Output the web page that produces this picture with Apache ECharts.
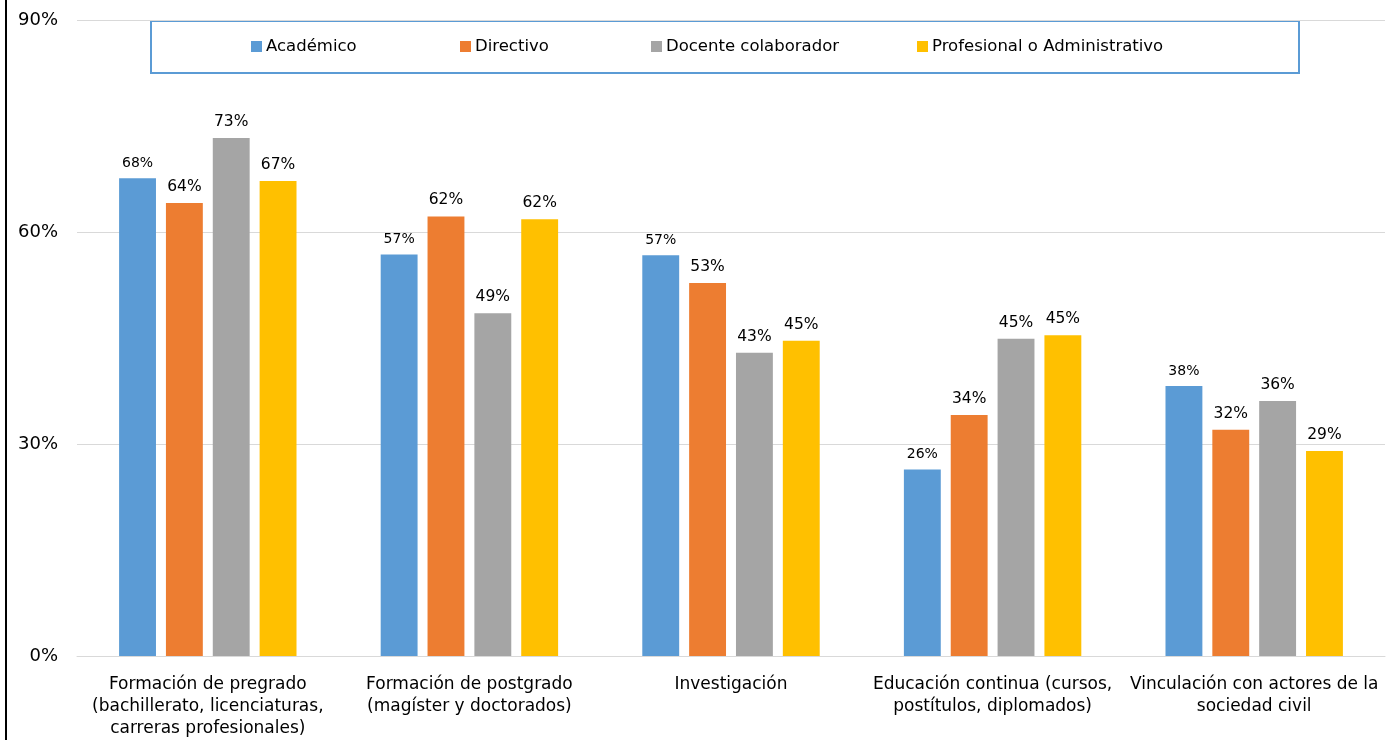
<!DOCTYPE html>
<html><head><meta charset="utf-8">
<script src="https://cdn.jsdelivr.net/npm/echarts@6/dist/echarts.min.js"></script>
<style>html,body{margin:0;padding:0;background:#fff}#c{width:1397px;height:740px}</style>
</head><body><div id="c"></div>
<script>
const categories = [
  "Formación de pregrado\n(bachillerato, licenciaturas,\ncarreras profesionales)",
  "Formación de postgrado\n(magíster y doctorados)",
  "Investigación",
  "Educación continua (cursos,\npostítulos, diplomados)",
  "Vinculación con actores de la\nsociedad civil"
];
const seriesNames = ["Académico", "Directivo", "Docente colaborador", "Profesional o Administrativo"];
const academico = [67.6, 56.8, 56.7, 26.4, 38.2];
const directivo = [64.1, 62.2, 52.8, 34.1, 32.0];
const docente = [73.3, 48.5, 42.9, 44.9, 36.1];
const profesional = [67.2, 61.8, 44.6, 45.4, 29.0];
const yTicks = [0, 30, 60, 90];
const colors = ["#5b9bd5", "#ed7d31", "#a5a5a5", "#ffc000"];
const values = [academico, directivo, docente, profesional];
const legendLeft = [251, 460, 651, 917];
const FONT = "DejaVu Sans";

const chart = echarts.init(document.getElementById('c'), null, {renderer: 'canvas'});
chart.setOption({
  animation: false,
  textStyle: {fontFamily: FONT},
  grid: {left: 77, right: 12, top: 20, bottom: 84, containLabel: false},
  graphic: [
    {type: 'rect', left: 5, top: 0, shape: {width: 2, height: 740}, style: {fill: '#000'}},
    {type: 'rect', left: 150, top: 20, shape: {width: 1148, height: 52}, style: {fill: '#fff', stroke: '#5b9bd5', lineWidth: 2}, z: 0}
  ],
  legend: seriesNames.map((n, i) => ({
    top: 38, left: legendLeft[i], padding: 0,
    data: [n],
    itemWidth: 11, itemHeight: 11, itemGap: 0,
    icon: 'rect',
    textStyle: {fontFamily: FONT, fontSize: 16.5, color: '#000', padding: [0, 0, 0, -1]},
    z: 10
  })),
  xAxis: {
    type: 'category', data: categories,
    axisLine: {lineStyle: {color: '#d9d9d9', width: 1}},
    axisTick: {show: false},
    axisLabel: {interval: 0, fontFamily: FONT, fontSize: 17, color: '#000', lineHeight: 22, margin: 18}
  },
  yAxis: {
    type: 'value', min: yTicks[0], max: yTicks[yTicks.length - 1], interval: 30,
    axisLine: {show: false}, axisTick: {show: false},
    splitLine: {lineStyle: {color: '#d9d9d9', width: 1}},
    axisLabel: {formatter: '{value}%', fontFamily: FONT, fontSize: 18, color: '#000', margin: 19}
  },
  series: seriesNames.map((n, i) => ({
    name: n, type: 'bar', data: values[i],
    barWidth: '14.1%', barGap: '27%',
    itemStyle: {color: colors[i]},
    label: {show: true, position: 'top', distance: 8,
      formatter: p => Math.round(p.value) + '%',
      fontFamily: FONT, fontSize: i === 0 ? 14 : 15.5, color: '#000'}
  }))
});
</script></body></html>
